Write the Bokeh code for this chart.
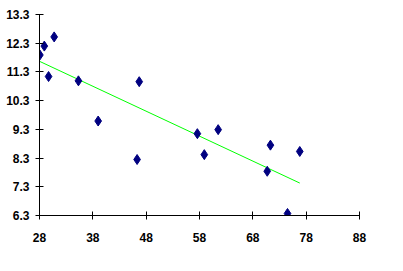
import numpy as np
from bokeh.plotting import figure
from bokeh.models import FixedTicker, Range1d, ColumnDataSource
from bokeh.embed import file_html
from bokeh.resources import INLINE

x_vals = [28.07, 28.9, 30.75, 29.7, 35.3, 39.0, 46.7, 46.3, 57.6, 58.9, 61.5, 71.3, 70.7, 76.8, 74.5]
y_vals = [11.89, 12.2, 12.52, 11.14, 10.99, 9.59, 10.96, 8.25, 9.15, 8.42, 9.29, 8.75, 7.84, 8.53, 6.37]
x_ticks = [28, 38, 48, 58, 68, 78, 88]
y_ticks = [6.3, 7.3, 8.3, 9.3, 10.3, 11.3, 12.3, 13.3]
trend_x = [28.0, 76.8]
trend_y = [11.67, 7.43]

p = figure(width=395, height=263, output_backend="svg", toolbar_location=None,
           x_range=Range1d(28, 88), y_range=Range1d(6.3, 13.3),
           min_border_left=39, min_border_right=36, min_border_top=14, min_border_bottom=48)
p.outline_line_color = None
p.xgrid.grid_line_color = None
p.ygrid.grid_line_color = None
p.background_fill_color = "white"

p.line(trend_x, trend_y, line_color="#00FF00", line_width=1)
src = ColumnDataSource(dict(x=x_vals, y=y_vals))
p.scatter("x", "y", source=src, marker="diamond", size=10, fill_color="#000080", line_color="#000080")

for ax, ticks in ((p.xaxis, x_ticks), (p.yaxis, y_ticks)):
    ax.ticker = FixedTicker(ticks=ticks)
    ax.minor_tick_line_color = None
    ax.major_tick_in = 4
    ax.major_tick_out = 4
    ax.axis_line_color = "black"
    ax.major_tick_line_color = "black"
    ax.major_label_text_font = "Liberation Sans"
    ax.major_label_text_font_style = "bold"
    ax.major_label_text_font_size = "12px"
    ax.major_label_text_color = "black"
p.yaxis.major_label_standoff = 6
p.xaxis.major_label_standoff = 13
p.xaxis.major_label_overrides = {t: str(t) for t in x_ticks}
p.yaxis.major_label_overrides = {t: "%.1f" % t for t in y_ticks}

open("out.html", "w").write(file_html(p, INLINE))
